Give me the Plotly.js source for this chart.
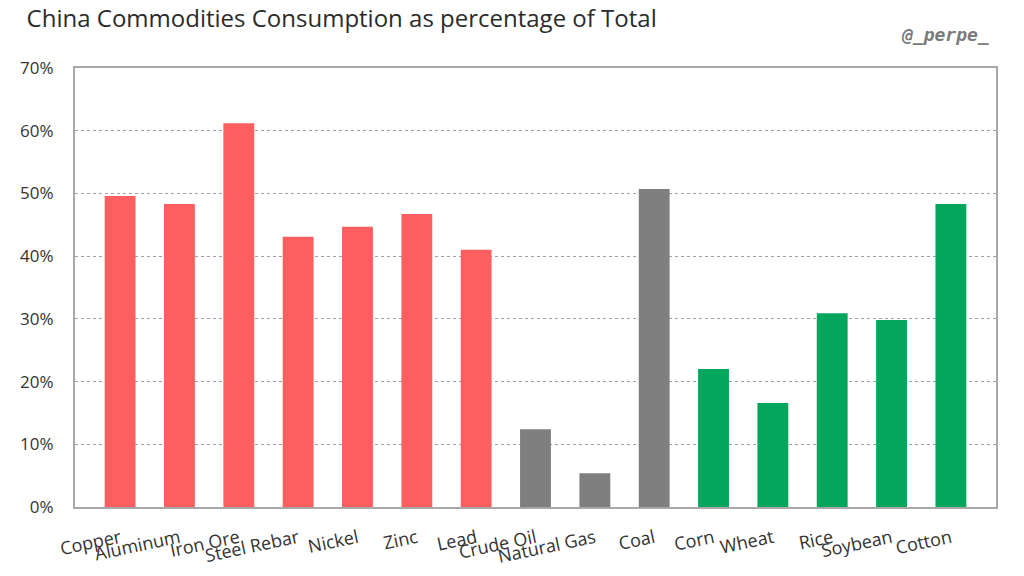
<!DOCTYPE html>
<html>
<head>
<meta charset="utf-8">
<script src="https://cdn.plot.ly/plotly-3.0.1.min.js"></script>
<style>html,body{margin:0;padding:0;background:#fff;}#chart{width:1024px;height:576px;}</style>
</head>
<body>
<div id="chart"></div>
<script>
var categories = ["Copper","Aluminum","Iron Ore","Steel Rebar","Nickel","Zinc","Lead","Crude Oil","Natural Gas","Coal","Corn","Wheat","Rice","Soybean","Cotton"];
var values = [0.496, 0.483, 0.612, 0.431, 0.447, 0.467, 0.410, 0.124, 0.054, 0.507, 0.220, 0.166, 0.309, 0.298, 0.483];
var groups = ["metal","metal","metal","metal","metal","metal","metal","energy","energy","energy","agri","agri","agri","agri","agri"];
var groupColors = {metal: "#fd5f60", energy: "#7f7f7f", agri: "#04a55c"};
var yTickVals = [0, 0.1, 0.2, 0.3, 0.4, 0.5, 0.6, 0.7];
var yTickText = ["0%","10%","20%","30%","40%","50%","60%","70%"];

var trace = {
  type: "bar",
  x: categories,
  y: values,
  marker: {color: groups.map(function(g){return groupColors[g];})},
  width: 0.52,
  hoverinfo: "x+y"
};

var layout = {
  width: 1024, height: 576,
  margin: {l: 75, r: 28, t: 68, b: 69},
  paper_bgcolor: "#ffffff",
  plot_bgcolor: "#ffffff",
  showlegend: false,
  title: {
    text: "China Commodities Consumption as percentage of Total",
    x: 0.026, xanchor: "left", xref: "container",
    y: 0.968, yanchor: "middle", yref: "container",
    font: {family: "Open Sans, Noto Sans, sans-serif", size: 24, color: "#2b2b2b"}
  },
  xaxis: {
    type: "category",
    range: [-0.76, 14.76],
    tickangle: -12,
    tickfont: {family: "Open Sans, Noto Sans, sans-serif", size: 18, color: "#333333"},
    showgrid: false,
    showline: true, linecolor: "#a8a8a8", linewidth: 2, mirror: true,
    ticks: "", ticklen: 0, ticklabelstandoff: 12,
    zeroline: false,
    fixedrange: true
  },
  yaxis: {
    range: [0, 0.7],
    tickvals: yTickVals,
    ticktext: yTickText,
    tickfont: {family: "Open Sans, Noto Sans, sans-serif", size: 17, color: "#333333"},
    showgrid: true, gridcolor: "#a0a0a0", griddash: "dot", gridwidth: 1,
    showline: true, linecolor: "#a8a8a8", linewidth: 2, mirror: true,
    zeroline: false,
    ticks: "", ticklabelstandoff: 16,
    fixedrange: true
  },
  annotations: [{
    text: "<b><i>@_perpe_</i></b>",
    xref: "paper", yref: "paper",
    x: 0.995, xanchor: "right",
    y: 1.077, yanchor: "middle",
    showarrow: false,
    font: {family: "DejaVu Sans Mono, monospace", size: 18, color: "#7a7a7a"}
  }]
};

Plotly.newPlot("chart", [trace], layout, {displayModeBar: false, staticPlot: true});
</script>
</body>
</html>
